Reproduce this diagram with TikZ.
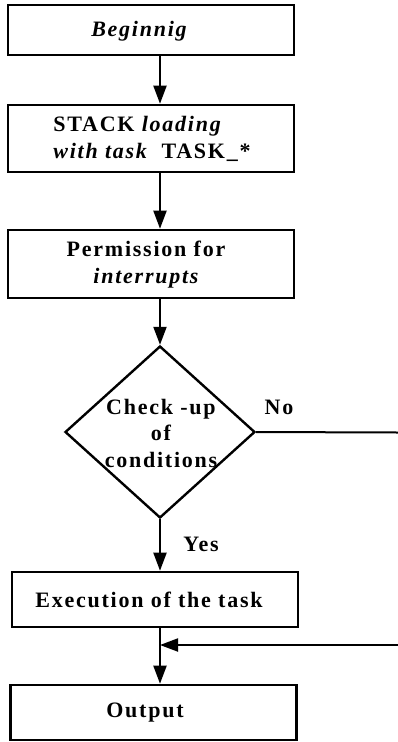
\documentclass[tikz,border=0pt]{standalone}
\usepackage{fontspec}
\setmainfont{Liberation Serif}[LetterSpace=8]
\usetikzlibrary{arrows.meta,shapes.geometric}
\begin{document}
\begin{tikzpicture}[x=1pt,y=-1pt,
  box/.style={draw,line width=2.6pt,minimum width=286pt,inner sep=0pt},
  dec/.style={draw,diamond,line width=2.4pt,minimum width=190pt,minimum height=172pt,inner sep=0pt},
  lbl/.style={font=\fontsize{22}{27}\selectfont\bfseries,inner sep=0pt},
  arr/.style={line width=2pt,-{Triangle[length=18pt,width=13pt]}},
  ln/.style={line width=2pt}]
\useasboundingbox (0,0) rectangle (398,742);
\node[box,minimum height=50pt] (b1) at (151,30) {};
\node[lbl] (t1) at (139,31) {\itshape Beginnig};
\node[box,minimum height=67pt] (b2) at (151,138.5) {};
\node[lbl,align=left] (t2) at (152,139) {STACK \itshape loading\\ \itshape with task\upshape\ \ TASK\_*};
\node[box,minimum height=68pt] (b3) at (151,264) {};
\node[lbl,align=center] (t3) at (146,265) {Permission for\\ \itshape interrupts};
\node[dec] (d) at (160,432) {};
\node[lbl,align=center,font=\fontsize{22}{26.5}\selectfont\bfseries] (td) at (161,433) {Check -up\\of\\conditions};
\node[lbl] (no) at (279,407) {No};
\node[lbl] (yes) at (201,544) {Yes};
\node[box,minimum height=55pt] (b4) at (155,599.5) {};
\node[lbl] (t4) at (149,600) {Execution of the task};
\node[box,minimum height=55pt] (b5) at (153.5,712.5) {};
\node[lbl] (t5) at (145,713) {Output};
\coordinate (noend) at (398,432.5);
\coordinate (retstart) at (398,645);
\coordinate (join) at (160,645);
\draw[arr] (b1.south -| 160,0) -- (b2.north -| 160,0);
\draw[arr] (b2.south -| 160,0) -- (b3.north -| 160,0);
\draw[arr] (b3.south -| 160,0) -- (d.north);
\draw[arr] (d.south) -- (b4.north -| 160,0);
\draw[arr] (b4.south -| 160,0) -- (b5.north -| 160,0);
\draw[ln] (d.east) -- (noend);
\draw[arr] (retstart) -- (join);
\end{tikzpicture}
\end{document}
